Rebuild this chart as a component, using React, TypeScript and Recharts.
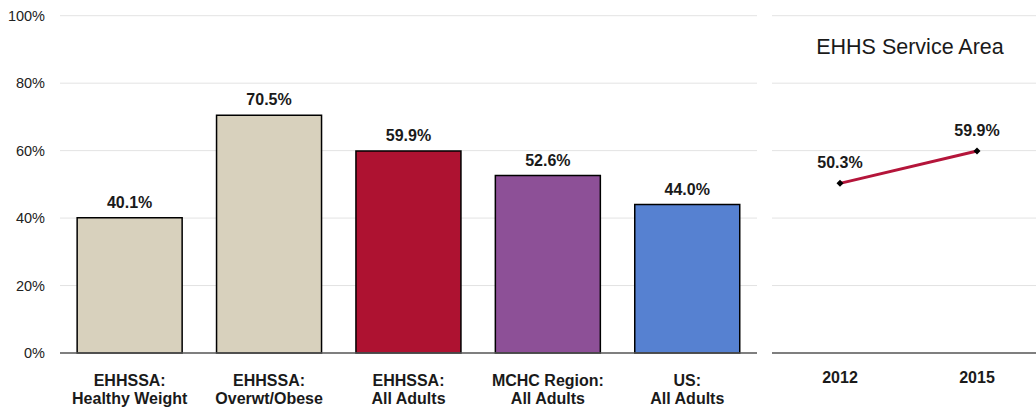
import React from 'react';
import { BarChart, Bar, XAxis, YAxis, CartesianGrid, Cell, LabelList, LineChart, Line } from 'recharts';

const barCategories = [
  'EHHSSA:|Healthy Weight',
  'EHHSSA:|Overwt/Obese',
  'EHHSSA:|All Adults',
  'MCHC Region:|All Adults',
  'US:|All Adults',
];
const barValues = [40.1, 70.5, 59.9, 52.6, 44.0];
const barColors = ['#d8d1bd', '#d8d1bd', '#ae1231', '#8d5097', '#5681d1'];
const yTicks = [0, 20, 40, 60, 80, 100];

const trendYears = ['2012', '2015'];
const trendValues = [50.3, 59.9];
const trendTitle = 'EHHS Service Area';

const barData = barCategories.map((c, i) => ({ name: c, value: barValues[i] }));
const lineData = trendYears.map((y, i) => ({ name: y, value: trendValues[i] }));

const FONT = '"Liberation Sans", Arial, sans-serif';
const TEXT = '#1a1a1a';

const BarTick = (props: any) => {
  const { x, y, payload } = props;
  const [l1, l2] = String(payload.value).split('|');
  return (
    <text x={x} y={y} textAnchor="middle" fontFamily={FONT} fontWeight="bold" fontSize={16} fill={TEXT}>
      <tspan x={x} dy={32.8}>{l1}</tspan>
      <tspan x={x} dy={18.5}>{l2}</tspan>
    </text>
  );
};

const YearTick = (props: any) => {
  const { x, y, payload } = props;
  return (
    <text x={x} y={y} textAnchor="middle" fontFamily={FONT} fontWeight="bold" fontSize={16} fill={TEXT}>
      <tspan x={x} dy={29.5}>{payload.value}</tspan>
    </text>
  );
};

const Diamond = (props: any) => {
  const { cx, cy } = props;
  if (cx == null || cy == null) return null;
  const r = 3.5;
  return <polygon points={`${cx},${cy - r} ${cx + r},${cy} ${cx},${cy + r} ${cx - r},${cy}`} fill="#000" />;
};

const pct = (v: any) => `${Number(v).toFixed(1)}%`;

export default function App() {
  return (
    <div style={{ position: 'absolute', left: 0, top: 0, width: 1036, height: 411, overflow: 'hidden', background: '#fff' }}>
      <div style={{ position: 'absolute', left: 0, top: 0 }}>
        <BarChart width={757} height={411} data={barData} margin={{ top: 15.7, right: 0, left: 0, bottom: 0 }} barCategoryGap="12.3%">
          <CartesianGrid vertical={false} stroke="#e3e3e3" strokeWidth={1} />
          <YAxis
            domain={[0, 100]}
            ticks={yTicks}
            width={60}
            axisLine={false}
            tickLine={false}
            tickSize={0}
            tickMargin={15}
            tickFormatter={(v: any) => `${v}%`}
            tick={{ fontFamily: FONT, fontSize: 14.5, fill: '#222' }}
          />
          <XAxis
            dataKey="name"
            height={58}
            axisLine={{ stroke: '#595959', strokeWidth: 1.5 }}
            tickLine={false}
            tickSize={0}
            tickMargin={0}
            interval={0}
            tick={<BarTick />}
          />
          <Bar dataKey="value" isAnimationActive={false} stroke="#000" strokeWidth={1.5}>
            {barData.map((d, i) => (
              <Cell key={d.name} fill={barColors[i]} />
            ))}
            <LabelList
              dataKey="value"
              position="top"
              offset={10}
              formatter={pct}
              style={{ fontFamily: FONT, fontWeight: 'bold', fontSize: 16, fill: TEXT }}
            />
          </Bar>
        </BarChart>
      </div>
      <div style={{ position: 'absolute', left: 772, top: 0 }}>
        <LineChart width={264} height={411} data={lineData} margin={{ top: 15.7, right: 0, left: 0, bottom: 0 }}>
          <CartesianGrid vertical={false} stroke="#e3e3e3" strokeWidth={1} />
          <YAxis hide domain={[0, 100]} ticks={yTicks} width={0} />
          <XAxis
            dataKey="name"
            height={58}
            padding={{ left: 68, right: 59 }}
            axisLine={{ stroke: '#595959', strokeWidth: 1.5 }}
            tickLine={false}
            tickSize={0}
            tickMargin={0}
            interval={0}
            tick={<YearTick />}
          />
          <Line
            dataKey="value"
            type="linear"
            stroke="#b4153a"
            strokeWidth={3}
            dot={<Diamond />}
            activeDot={false}
            isAnimationActive={false}
          >
            <LabelList
              dataKey="value"
              position="top"
              offset={15}
              formatter={pct}
              style={{ fontFamily: FONT, fontWeight: 'bold', fontSize: 16, fill: TEXT }}
            />
          </Line>
        </LineChart>
      </div>
      <div
        style={{
          position: 'absolute',
          left: 760,
          top: 36,
          width: 300,
          textAlign: 'center',
          fontFamily: FONT,
          fontSize: 21.5,
          lineHeight: '22px',
          color: TEXT,
          whiteSpace: 'nowrap',
        }}
      >
        {trendTitle}
      </div>
    </div>
  );
}
